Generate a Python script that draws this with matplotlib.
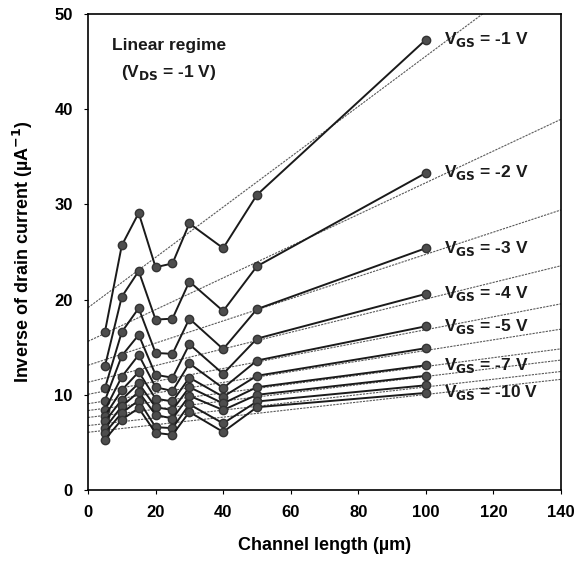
import numpy as np
import matplotlib.pyplot as plt

plt.rcParams['font.family'] = ['Liberation Sans', 'DejaVu Sans']
plt.rcParams['font.weight'] = 'bold'
plt.rcParams['axes.labelweight'] = 'bold'
plt.rcParams['mathtext.default'] = 'bf'

# channel lengths (um)
length = [5, 10, 15, 20, 25, 30, 40, 50, 100]

# inverse drain current (1/uA) for each gate voltage
vgs = [-1, -2, -3, -4, -5, -6, -7, -8, -9, -10]
inv_id = [
    [16.6, 25.7, 29.1, 23.4, 23.8, 28.0, 25.4, 31.0, 47.3],
    [13.0, 20.3, 23.0, 17.9, 18.0, 21.9, 18.8, 23.5, 33.3],
    [10.7, 16.6, 19.1, 14.4, 14.3, 18.0, 14.8, 19.0, 25.4],
    [9.4, 14.1, 16.3, 12.1, 11.8, 15.3, 12.2, 15.9, 20.6],
    [8.4, 11.9, 14.2, 10.8, 10.4, 13.3, 10.7, 13.6, 17.2],
    [7.8, 10.5, 12.4, 9.6, 9.3, 11.8, 9.8, 12.0, 14.9],
    [7.2, 9.5, 11.2, 8.7, 8.4, 10.8, 9.1, 10.8, 13.1],
    [6.5, 8.8, 10.3, 7.9, 7.5, 9.9, 8.4, 10.0, 12.0],
    [6.0, 8.1, 9.4, 6.6, 6.5, 9.0, 7.0, 9.3, 11.0],
    [5.3, 7.4, 8.6, 6.0, 5.8, 8.2, 6.1, 8.7, 10.2],
]
labelled = [-1, -2, -3, -4, -5, -7, -10]

fig = plt.figure(figsize=(5.81, 5.69), dpi=100)
ax = fig.add_axes([0.1515, 0.1388, 0.814, 0.8366])

xfit = np.array([0, 140])
for v, y in zip(vgs, inv_id):
    # least squares fit, drawn across the whole axis
    k, b = np.polyfit(length, y, 1)
    ax.plot(xfit, k * xfit + b, color='0.35', lw=0.8, ls=(0, (2, 1)), zorder=1)
    ax.plot(length, y, color='0.1', lw=1.4, marker='o', ms=6,
            mfc='0.3', mec='0.2', zorder=2)
    if v in labelled:
        ax.text(105.5, y[-1], r'V$_{\rm GS}$ = %d V' % v, fontsize=12.5,
                va='center', ha='left', color='0.1')

ax.text(24, 46.7, 'Linear regime', fontsize=12.5, ha='center', va='center', color='0.1')
ax.text(24, 43.9, r'(V$_{\rm DS}$ = -1 V)', fontsize=12.5, ha='center', va='center', color='0.1')

ax.set_xlim(0, 140)
ax.set_ylim(0, 50)
ax.set_xticks(range(0, 141, 20))
ax.set_yticks(range(0, 51, 10))
ax.tick_params(direction='out', length=3, labelsize=12, pad=8, top=False, right=False)
ax.set_xlabel('Channel length (\u00b5m)', fontsize=13, labelpad=12)
ax.set_ylabel('Inverse of drain current (\u00b5A$^{-1}$)', fontsize=13, labelpad=14)
for s in ax.spines.values():
    s.set_linewidth(1.2)

fig.savefig('out.png', dpi=100)
